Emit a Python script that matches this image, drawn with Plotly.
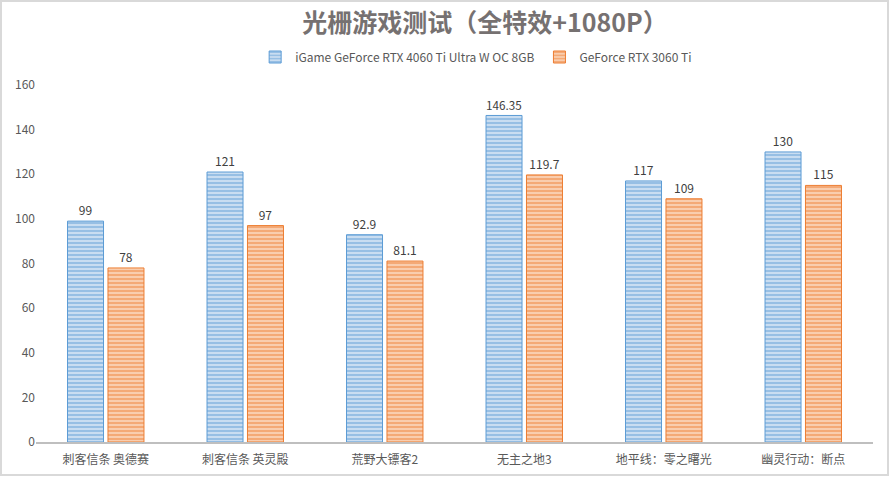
import plotly.graph_objects as go

categories = ["刺客信条 奥德赛", "刺客信条 英灵殿", "荒野大镖客2", "无主之地3", "地平线：零之曙光", "幽灵行动：断点"]
series_names = ["iGame GeForce RTX 4060 Ti Ultra W OC 8GB", "GeForce RTX 3060 Ti"]
rtx4060ti = [99, 121, 92.9, 146.35, 117, 130]
rtx3060ti = [78, 97, 81.1, 119.7, 109, 115]
y_ticks = [0, 20, 40, 60, 80, 100, 120, 140, 160]

FONT = "Noto Sans CJK SC, Microsoft YaHei, sans-serif"

def fmt(v):
    return ("%g" % v)

fig = go.Figure()
styles = [("#5B9BD5", "#C9DDF1"), ("#ED7D31", "#F9CDAE")]
for name, vals, (fg, bg) in zip(series_names, [rtx4060ti, rtx3060ti], styles):
    fig.add_trace(go.Bar(
        x=categories, y=vals, name=name,
        text=[fmt(v) for v in vals], textposition="outside",
        textfont=dict(size=12, color="#404040", family=FONT),
        cliponaxis=False,
        marker=dict(color=bg, line=dict(color=fg, width=1),
                    pattern=dict(shape="-", fgcolor=fg, bgcolor=bg, size=4, solidity=0.45)),
    ))

fig.update_layout(
    width=890, height=477,
    margin=dict(l=36, r=17, t=85, b=35, autoexpand=False),
    paper_bgcolor="white", plot_bgcolor="white",
    font=dict(family=FONT, size=12, color="#595959"),
    barmode="group", bargap=0.42, bargroupgap=0.11,
    title=dict(text="<b>光栅游戏测试（全特效+1080P）</b>", x=0.545, xanchor="center",
               y=1 - 23 / 477, yanchor="middle", yref="container",
               font=dict(size=25, color="#767171", family=FONT)),
    legend=dict(orientation="h", xref="container", yref="container",
                x=0.535, xanchor="center", y=1 - 57 / 477, yanchor="middle",
                font=dict(size=12, color="#595959", family=FONT),
                itemwidth=30, traceorder="normal", tracegroupgap=0),
    showlegend=True,
)
fig.update_xaxes(showline=True, linecolor="#BFBFBF", linewidth=1.5,
                 ticks="outside", ticklen=6, tickcolor="rgba(0,0,0,0)",
                 tickfont=dict(size=12, color="#595959"), showgrid=False, automargin=False)
fig.update_yaxes(range=[0, 160], tickvals=y_ticks, showgrid=False, zeroline=False,
                 showline=False, tickfont=dict(size=12, color="#595959"), automargin=False)

fig.add_shape(type="rect", xref="paper", yref="paper",
              x0=(1 - 36) / 837, x1=(888 - 36) / 837,
              y0=(442 - 475) / 357, y1=(442 - 1) / 357,
              line=dict(color="#D9D9D9", width=2), fillcolor="rgba(0,0,0,0)", layer="below")

fig.write_html("out.html", config={"displayModeBar": False},
               post_script="document.body.style.margin='0';")
